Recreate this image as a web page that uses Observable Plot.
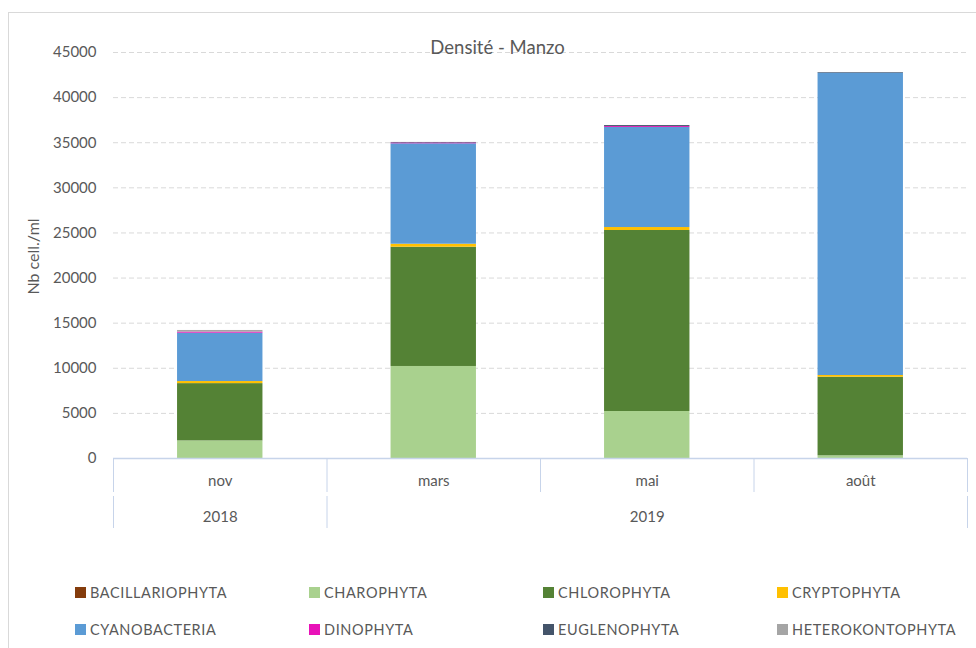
<!DOCTYPE html>
<html>
<head>
<meta charset="utf-8">
<script src="https://cdn.jsdelivr.net/npm/d3@7"></script>
<script src="https://cdn.jsdelivr.net/npm/@observablehq/plot@0.6"></script>
<style>
  html, body { margin: 0; padding: 0; background: #fff; overflow: hidden; }
  body { width: 976px; height: 648px; position: relative; font-family: Lato, "Open Sans", sans-serif; color: #595959; }
  #frame { position: absolute; left: 8px; top: 12px; width: 1000px; height: 700px; border: 1px solid #d9d9d9; box-sizing: border-box; }
  #chart { position: absolute; left: 0; top: 0; }
  #legend { position: absolute; left: 75px; top: 583px; display: grid; grid-template-columns: repeat(4, 234px); grid-auto-rows: 37px; }
  .item { display: flex; align-items: center; height: 18px; font-size: 14.5px; letter-spacing: 0.6px; color: #595959; white-space: nowrap; }
  .sw { width: 11px; height: 11px; margin-right: 4px; flex: none; }
</style>
</head>
<body>
<div id="frame"></div>
<div id="chart"></div>
<div id="legend"></div>
<script>
// ---- data ----
const months = ["nov", "mars", "mai", "août"];
const years = ["2018", "2019", "2019", "2019"];
const groups = ["BACILLARIOPHYTA", "CHAROPHYTA", "CHLOROPHYTA", "CRYPTOPHYTA", "CYANOBACTERIA", "DINOPHYTA", "EUGLENOPHYTA", "HETEROKONTOPHYTA"];
const colors = ["#843c0c", "#a9d18e", "#548235", "#ffc000", "#5b9bd5", "#e812b8", "#44546a", "#a5a5a5"];
const bacillariophyta  = [0, 0, 0, 0];
const charophyta       = [1950, 10200, 5210, 300];
const chlorophyta      = [6350, 13220, 20060, 8710];
const cryptophyta      = [230, 330, 330, 190];
const cyanobacteria    = [5360, 11130, 11090, 33510];
const dinophyta        = [120, 90, 100, 0];
const euglenophyta     = [0, 60, 110, 70];
const heterokontophyta = [180, 0, 0, 0];
const yTicks = [0, 5000, 10000, 15000, 20000, 25000, 30000, 35000, 40000, 45000];
const title = "Densité - Manzo";
const yLabel = "Nb cell./ml";

const series = [bacillariophyta, charophyta, chlorophyta, cryptophyta, cyanobacteria, dinophyta, euglenophyta, heterokontophyta];
const data = [];
groups.forEach((g, gi) => months.forEach((m, mi) => data.push({month: m, group: g, value: series[gi][mi]})));

const W = 976, H = 560, mL = 113, mR = 9, mT = 52, mB = 102;
const step = (W - mL - mR) / months.length;
const yearOf = Object.fromEntries(months.map((m, i) => [m, years[i]]));
const sepColor = "#c7d4ea";
// year boundaries: where the year changes
const yearStarts = months.filter((m, i) => i === 0 || years[i] !== years[i - 1]);
const yearMid = [];
{
  let i = 0;
  while (i < months.length) {
    let j = i; while (j + 1 < months.length && years[j + 1] === years[i]) j++;
    yearMid.push(months[Math.floor((i + j) / 2)]);
    i = j + 1;
  }
}

const chart = Plot.plot({
  width: W, height: H,
  marginLeft: mL, marginRight: mR, marginTop: mT, marginBottom: mB,
  style: {fontFamily: "Lato, 'Open Sans', sans-serif", color: "#595959", background: "transparent"},
  x: {domain: months, type: "band", paddingInner: 0.6, paddingOuter: 0.3, round: false, axis: null},
  y: {domain: [0, 45000], axis: null},
  color: {domain: groups, range: colors},
  marks: [
    Plot.gridY(yTicks.filter(d => d > 0), {stroke: "#d9d9d9", strokeOpacity: 1, strokeDasharray: "5,3"}),
    Plot.barY(data, {x: "month", y: "value", fill: "group", order: groups}),
    Plot.ruleY([0], {stroke: sepColor, strokeWidth: 1.5}),
    Plot.axisY(yTicks, {tickSize: 0, tickPadding: 17, fontSize: 15, tickFormat: d => String(d), label: null}),
    Plot.axisX({tickSize: 0, tickPadding: 17, fontSize: 15, label: null}),
    Plot.axisX(yearMid, {tickSize: 0, tickPadding: 53, fontSize: 15, tickFormat: m => yearOf[m], label: null}),
    // category separators, row 1
    Plot.ruleX(months, {x: d => d, y1: 0, y2: 0, dx: -step / 2, insetTop: 0, insetBottom: -34, stroke: sepColor}),
    Plot.ruleX(months.slice(-1), {x: d => d, y1: 0, y2: 0, dx: step / 2, insetTop: 0, insetBottom: -34, stroke: sepColor}),
    // year separators, row 2
    Plot.ruleX(yearStarts, {x: d => d, y1: 0, y2: 0, dx: -step / 2, insetTop: 38, insetBottom: -70, stroke: sepColor}),
    Plot.ruleX(months.slice(-1), {x: d => d, y1: 0, y2: 0, dx: step / 2, insetTop: 38, insetBottom: -70, stroke: sepColor}),
    Plot.text([title], {frameAnchor: "top", dy: -12, dx: -43, fontSize: 18.5, fill: "#595959"}),
    Plot.text([yLabel], {frameAnchor: "left", textAnchor: "middle", rotate: -90, dx: -80, dy: 1, fontSize: 16, fill: "#595959"})
  ]
});
document.getElementById("chart").append(chart);

const legend = document.getElementById("legend");
groups.forEach((g, i) => {
  const it = document.createElement("div");
  it.className = "item";
  const sw = document.createElement("span");
  sw.className = "sw";
  sw.style.background = colors[i];
  it.append(sw, document.createTextNode(g));
  legend.append(it);
});
</script>
</body>
</html>
